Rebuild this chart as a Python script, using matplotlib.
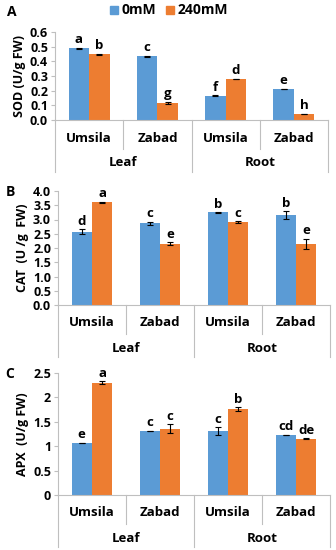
import matplotlib.pyplot as plt
import numpy as np

plt.rcParams['font.family'] = ['Open Sans', 'DejaVu Sans']
plt.rcParams['font.weight'] = 'bold'

varieties = ['Umsila', 'Zabad', 'Umsila', 'Zabad']
tissues = ['Leaf', 'Root']
series = ['0mM', '240mM']

sod_0 = [0.49, 0.435, 0.165, 0.21]
sod_240 = [0.448, 0.115, 0.28, 0.042]
sod_0_err = [0.004, 0.003, 0.003, 0.002]
sod_240_err = [0.003, 0.008, 0.002, 0.002]
sod_0_let = ['a', 'c', 'f', 'e']
sod_240_let = ['b', 'g', 'd', 'h']

cat_0 = [2.57, 2.87, 3.25, 3.16]
cat_240 = [3.6, 2.15, 2.9, 2.15]
cat_0_err = [0.08, 0.05, 0.01, 0.13]
cat_240_err = [0.02, 0.05, 0.03, 0.17]
cat_0_let = ['d', 'c', 'b', 'b']
cat_240_let = ['a', 'e', 'c', 'e']

apx_0 = [1.07, 1.31, 1.31, 1.23]
apx_240 = [2.3, 1.36, 1.76, 1.15]
apx_0_err = [0.005, 0.005, 0.08, 0.005]
apx_240_err = [0.03, 0.09, 0.04, 0.01]
apx_0_let = ['e', 'c', 'c', 'cd']
apx_240_let = ['a', 'c', 'b', 'de']

blue = '#5B9BD5'
orange = '#ED7D31'
grey = '#BFBFBF'

W, H = 336, 550
fig = plt.figure(figsize=(W / 100, H / 100), dpi=100)


def panel(left, top, right, bottom, v0, v1, e0, e1, l0, l1, ymax, step, fmt, ylabel, letter, lx, ly, lpad):
    ax = fig.add_axes([left / W, 1 - bottom / H, (right - left) / W, (bottom - top) / H])
    h = bottom - top
    x = np.arange(4)
    w = 0.3
    ax.bar(x - w / 2, v0, w, color=blue, yerr=e0, capsize=2,
           error_kw=dict(ecolor='black', elinewidth=0.8, capthick=0.8))
    ax.bar(x + w / 2, v1, w, color=orange, yerr=e1, capsize=2,
           error_kw=dict(ecolor='black', elinewidth=0.8, capthick=0.8))
    for i in range(4):
        ax.text(x[i] - w / 2, v0[i] + e0[i] + lpad, l0[i], ha='center', va='bottom',
                fontsize=9.5, fontweight='bold')
        ax.text(x[i] + w / 2, v1[i] + e1[i] + lpad, l1[i], ha='center', va='bottom',
                fontsize=9.5, fontweight='bold')
    ax.set_xlim(-0.5, 3.5)
    ax.set_ylim(0, ymax)
    ticks = np.arange(0, ymax + step / 2, step)
    ax.set_yticks(ticks)
    ax.set_yticklabels([fmt(t) for t in ticks], fontsize=9, fontweight='bold')
    ax.set_xticks([])
    for s in ['top', 'right']:
        ax.spines[s].set_visible(False)
    for s in ['left', 'bottom']:
        ax.spines[s].set_color(grey)
        ax.spines[s].set_linewidth(0.8)
    ax.tick_params(axis='y', length=3, color=grey, pad=2)
    ax.set_ylabel(ylabel, fontsize=9, fontweight='bold', labelpad=3)
    # multi-level category axis
    tr = ax.get_xaxis_transform()
    for xb in [0.5, 2.5]:
        ax.plot([xb, xb], [0, -29 / h], transform=tr, color=grey, lw=0.8, clip_on=False)
    for xb in [-0.5, 1.5, 3.5]:
        ax.plot([xb, xb], [0, -52 / h], transform=tr, color=grey, lw=0.8, clip_on=False)
    for i, name in enumerate(varieties):
        ax.text(i, -18 / h, name, transform=tr, ha='center', va='center',
                fontsize=9.5, fontweight='bold')
    for j, name in enumerate(tissues):
        ax.text(0.5 + 2 * j, -43 / h, name, transform=tr, ha='center', va='center',
                fontsize=9.5, fontweight='bold')
    fig.text(lx / W, 1 - ly / H, letter, ha='center', va='center', fontsize=10, fontweight='bold')
    return ax


panel(55, 32, 328, 120, sod_0, sod_240, sod_0_err, sod_240_err, sod_0_let, sod_240_let,
      0.6, 0.1, lambda t: f'{t:.1f}', 'SOD (U/g FW)', 'A', 12, 12, 0.01)
panel(58, 191, 330, 305, cat_0, cat_240, cat_0_err, cat_240_err, cat_0_let, cat_240_let,
      4.0, 0.5, lambda t: f'{t:.1f}', 'CAT  (U /g  FW)', 'B', 10, 192, 0.05)
panel(58, 373, 330, 495, apx_0, apx_240, apx_0_err, apx_240_err, apx_0_let, apx_240_let,
      2.5, 0.5, lambda t: f'{t:g}', 'APX  (U/g FW)', 'C', 10, 374, 0.03)

# legend
fig.patches.append(plt.Rectangle((110 / W, 1 - 14 / H), 8 / W, 8 / H, transform=fig.transFigure,
                                 color=blue))
fig.text(122 / W, 1 - 10 / H, series[0], ha='left', va='center', fontsize=10, fontweight='bold')
fig.patches.append(plt.Rectangle((166 / W, 1 - 14 / H), 8 / W, 8 / H, transform=fig.transFigure,
                                 color=orange))
fig.text(178 / W, 1 - 10 / H, series[1], ha='left', va='center', fontsize=10, fontweight='bold')

fig.savefig('out.png', dpi=100)
